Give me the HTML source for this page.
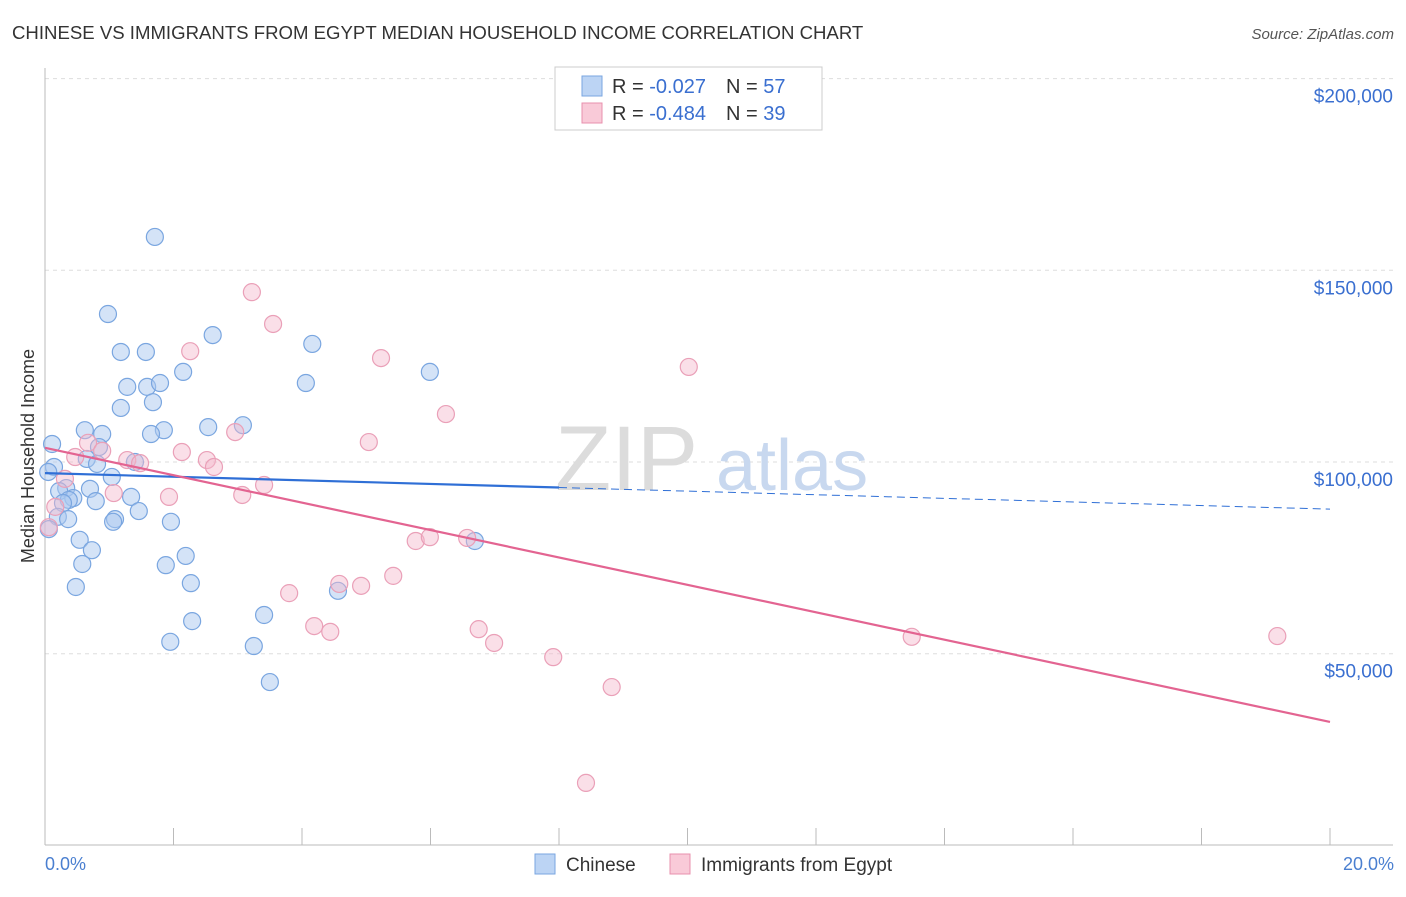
<!DOCTYPE html>
<html><head><meta charset="utf-8"><style>
body{margin:0;background:#fff;font-family:"Liberation Sans",sans-serif;}
svg text{font-family:"Liberation Sans",sans-serif;}
</style></head><body>
<svg id="chart" width="1406" height="892" viewBox="0 0 1406 892" xmlns="http://www.w3.org/2000/svg">
<text x="12" y="39" font-size="18.6" fill="#333">CHINESE VS IMMIGRANTS FROM EGYPT MEDIAN HOUSEHOLD INCOME CORRELATION CHART</text>
<text x="1394" y="39" font-size="15" fill="#555" text-anchor="end" font-style="italic">Source: ZipAtlas.com</text>
<g id="grid"></g>
<g>
<text x="555" y="490" font-size="92" fill="#dcdcdc" font-family="Liberation Serif,serif">ZIP</text>
<text x="716" y="490" font-size="72" fill="#c8d8ef">atlas</text>
</g>
<line x1="45" y1="68" x2="45" y2="845" stroke="#bbb"/>
<line x1="45" y1="845" x2="1393" y2="845" stroke="#bbb"/>
<g id="xticks"></g>
<g id="ylabels"></g>
<text transform="translate(34,456) rotate(-90)" font-size="18" fill="#333" text-anchor="middle">Median Household Income</text>
<text x="45" y="870" font-size="18" fill="#4a7fd0">0.0%</text>
<text x="1394" y="870" font-size="18" fill="#4a7fd0" text-anchor="end">20.0%</text>
<g id="points"></g>
<g id="trends"></g>
<g>
<rect x="555" y="67" width="267" height="63" fill="#fff" stroke="#ccc"/>
<rect x="582" y="76" width="20" height="20" fill="#bcd4f4" stroke="#7aa6e0"/>
<rect x="582" y="103" width="20" height="20" fill="#f9cad8" stroke="#e890ae"/>
<text x="612" y="93" font-size="20" fill="#333">R = <tspan fill="#3a6fd0">-0.027</tspan><tspan dx="20">N = </tspan><tspan fill="#3a6fd0">57</tspan></text>
<text x="612" y="120" font-size="20" fill="#333">R = <tspan fill="#3a6fd0">-0.484</tspan><tspan dx="20">N = </tspan><tspan fill="#3a6fd0">39</tspan></text>
</g>
<g>
<rect x="535" y="854" width="20" height="20" fill="#bcd4f4" stroke="#7aa6e0"/>
<text x="566" y="871" font-size="19" fill="#333">Chinese</text></g>
<g>
<rect x="670" y="854" width="20" height="20" fill="#f9cad8" stroke="#e890ae"/>
<text x="701" y="871" font-size="19" fill="#333">Immigrants from Egypt</text></g>
</svg>
<script>
const blueX=[1.71,0.98,2.61,4.16,1.18,1.57,2.15,5.99,1.28,1.59,1.79,4.06,1.68,1.18,0.62,2.54,3.08,1.85,1.65,0.89,0.11,0.84,0.65,1.40,0.14,0.81,1.04,0.05,0.33,0.22,0.70,0.44,0.37,0.79,0.28,1.34,1.46,0.20,0.36,1.09,1.06,1.96,0.06,0.54,0.73,2.19,0.58,1.88,2.27,0.48,4.56,3.41,2.29,1.95,3.25,3.50,6.69];
const blueY=[158.7,138.6,133.1,130.8,128.7,128.7,123.5,123.5,119.6,119.6,120.6,120.6,115.6,114.1,108.3,109.1,109.6,108.3,107.3,107.3,104.7,103.9,100.8,100,98.7,99.5,96.1,97.4,93.2,92.4,93.0,90.6,90.1,89.8,89.3,90.9,87.2,85.7,85.1,85.1,84.4,84.4,82.5,79.7,77.0,75.5,73.4,73.1,68.4,67.4,66.4,60.1,58.5,53.1,52.0,42.6,79.4];
const pinkX=[3.22,3.55,2.26,5.23,10.02,6.24,5.04,2.96,0.67,0.89,2.13,0.47,1.28,2.52,1.48,2.63,0.31,3.41,1.07,1.93,3.07,0.16,0.06,5.77,5.99,6.57,5.42,4.58,4.92,3.80,4.19,4.44,6.75,6.99,7.91,8.82,13.49,19.18,8.42];
const pinkY=[144.3,136.0,128.9,127.1,124.8,112.5,105.2,107.8,105.0,102.9,102.6,101.3,100.5,100.5,99.7,98.7,95.6,94.0,91.9,90.9,91.4,88.3,83.0,79.4,80.4,80.2,70.3,68.2,67.7,65.8,57.2,55.7,56.4,52.8,49.1,41.3,54.4,54.6,16.3];
const blueTrend=[97.1,87.7];
const pinkTrend=[103.7,32.2];
const yTicks=[50,100,150,200];
const yTickLabels=["$50,000","$100,000","$150,000","$200,000"];
const xTicks=[0,2,4,6,8,10,12,14,16,18,20];
const NS="http://www.w3.org/2000/svg";
function sx(v){return 45+v*64.25;}
function sy(v){return 462-(v-100)*3.834;}
function mk(t,a,p){const e=document.createElementNS(NS,t);for(const k in a)e.setAttribute(k,a[k]);p.appendChild(e);return e;}
const grid=document.getElementById('grid'),yl=document.getElementById('ylabels'),xt=document.getElementById('xticks');
yTicks.forEach((v,i)=>{
 const l=mk('line',{x1:45,x2:1393,y1:sy(v),y2:sy(v),stroke:'#ddd','stroke-dasharray':'4,4'},grid);
 
 
 const t=mk('text',{x:1393,y:sy(v)+24,'font-size':19,fill:'#3a6fd0','text-anchor':'end'},yl);
 t.textContent=yTickLabels[i];
 
 
});
xTicks.forEach(v=>{
 const l=mk('line',{x1:sx(v),x2:sx(v),y1:828,y2:845,stroke:'#bbb'},xt);
 
 
});
const pts=document.getElementById('points');


blueX.forEach((x,i)=>{
 const c=mk('circle',{cx:sx(x),cy:sy(blueY[i]),r:8.5,fill:'rgba(169,200,240,0.5)',stroke:'#7aa6e0','stroke-width':1.2},pts);
 
 
});
pinkX.forEach((x,i)=>{
 const c=mk('circle',{cx:sx(x),cy:sy(pinkY[i]),r:8.5,fill:'rgba(245,184,203,0.45)',stroke:'#eaa0b8','stroke-width':1.2},pts);
 
 
});
const tr=document.getElementById('trends');
function bt(x){return blueTrend[0]+(blueTrend[1]-blueTrend[0])*x/20;}
let a=mk('line',{x1:sx(0),y1:sy(bt(0)),x2:sx(8),y2:sy(bt(8)),stroke:'#2f6fd6','stroke-width':2.2},tr);


a=mk('line',{x1:sx(8),y1:sy(bt(8)),x2:sx(20),y2:sy(bt(20)),stroke:'#2f6fd6','stroke-width':1,'stroke-dasharray':'8,5'},tr);


a=mk('line',{x1:sx(0),y1:sy(pinkTrend[0]),x2:sx(20),y2:sy(pinkTrend[1]),stroke:'#e36491','stroke-width':2.2},tr);


</script>
</body></html>
